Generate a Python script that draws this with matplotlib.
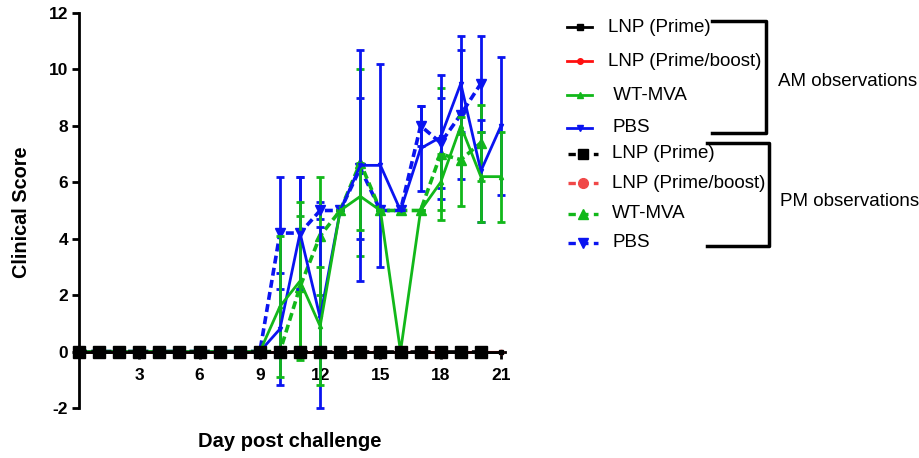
import numpy as np
import matplotlib.pyplot as plt
from matplotlib.lines import Line2D

plt.rcParams['font.family'] = ['Liberation Sans', 'DejaVu Sans']
plt.rcParams['axes.unicode_minus'] = False

# days observed
days_am = np.arange(0, 22)
days_pm = np.arange(0, 21)

# AM observations (solid lines)
lnp_prime_am = np.zeros(22)
lnp_boost_am = np.zeros(22)
wt_mva_am = [0, 0, 0, 0, 0, 0, 0, 0, 0, 0, 1.6, 2.5, 0.9, 5.0, 5.5, 5.0, 0, 5.0, 6.0, 8.0, 6.2, 6.2]
wt_mva_am_err = [0, 0, 0, 0, 0, 0, 0, 0, 0, 0, 2.5, 2.8, 2.1, 0, 1.2, 0, 0, 0, 1.0, 0.3, 1.6, 1.6]
pbs_am = [0, 0, 0, 0, 0, 0, 0, 0, 0, 0, 0.8, 4.2, 1.2, 5.0, 6.6, 6.6, 5.0, 7.2, 7.6, 9.5, 6.4, 8.0]
pbs_am_err = [0, 0, 0, 0, 0, 0, 0, 0, 0, 0, 2.0, 2.0, 3.2, 0, 4.1, 3.6, 0, 1.5, 2.2, 1.7, 1.8, 2.45]

# PM observations (dashed lines)
lnp_prime_pm = np.zeros(21)
lnp_boost_pm = np.zeros(21)
wt_mva_pm = [0, 0, 0, 0, 0, 0, 0, 0, 0, 0, 0, 2.3, 4.1, 5.0, 6.7, 5.0, 5.0, 5.0, 7.0, 6.8, 7.4]
wt_mva_pm_err = [0, 0, 0, 0, 0, 0, 0, 0, 0, 0, 0, 2.5, 2.1, 0, 3.3, 0, 0, 0, 2.35, 1.65, 1.35]
pbs_pm = [0, 0, 0, 0, 0, 0, 0, 0, 0, 0, 4.2, 4.2, 5.0, 5.0, 6.5, 5.0, 5.0, 8.0, 7.4, 8.4, 9.5]
pbs_pm_err = [0, 0, 0, 0, 0, 0, 0, 0, 0, 0, 2.0, 2.0, 0.3, 0, 2.5, 0, 0, 0.7, 1.6, 2.3, 1.7]

labels = ['LNP (Prime)', 'LNP (Prime/boost)', ' WT-MVA', 'PBS']
blue = '#0a14f0'
green = '#12b81a'
red = '#ff1010'

fig = plt.figure(figsize=(9.2, 4.58), dpi=100)
ax = fig.add_axes([0.0859, 0.1092, 0.4630, 0.8624])

dash = (2.2, 1.2)

# PM series
ax.errorbar(days_pm, pbs_pm, yerr=pbs_pm_err, color=blue, lw=2.6, ls=(0, dash),
            marker='v', ms=7, capsize=3, elinewidth=2, capthick=2, clip_on=False, zorder=3)
ax.errorbar(days_pm, wt_mva_pm, yerr=wt_mva_pm_err, color=green, lw=2.6, ls=(0, dash),
            marker='^', ms=7, capsize=3, elinewidth=2, capthick=2, clip_on=False, zorder=3)

# AM series
ax.errorbar(days_am, pbs_am, yerr=pbs_am_err, color=blue, lw=2, marker='v', ms=3,
            capsize=3, elinewidth=2, capthick=2, clip_on=False, zorder=4)
ax.errorbar(days_am, wt_mva_am, yerr=wt_mva_am_err, color=green, lw=2, marker='^', ms=3,
            capsize=3, elinewidth=2, capthick=2, clip_on=False, zorder=4)

ax.plot(days_pm, lnp_boost_pm, color=red, lw=2, ls=(0, dash), marker='o', ms=7,
        clip_on=False, zorder=5)
ax.plot(days_am, lnp_boost_am, color=red, lw=1.5, marker='o', ms=3, clip_on=False, zorder=5)
ax.plot(days_pm, lnp_prime_pm, color='black', lw=2.6, ls=(0, dash), marker='s', ms=8,
        clip_on=False, zorder=6)
ax.plot(days_am, lnp_prime_am, color='black', lw=2, marker='s', ms=3, clip_on=False, zorder=6)

ax.set_xlim(0, 21.2)
ax.set_ylim(-2, 12)
ax.spines['top'].set_visible(False)
ax.spines['right'].set_visible(False)
ax.spines['bottom'].set_position(('data', 0))
ax.spines['left'].set_linewidth(2)
ax.spines['bottom'].set_linewidth(2)
ax.set_xticks([3, 6, 9, 12, 15, 18, 21])
ax.set_yticks(np.arange(-2, 13, 2))
ax.tick_params(axis='both', width=2, length=5, labelsize=12.5, pad=3)
ax.tick_params(axis='x', pad=7)
for t in ax.get_xticklabels() + ax.get_yticklabels():
    t.set_fontweight('bold')

fig.text(0.315, 0.037, 'Day post challenge', ha='center', va='center',
         fontsize=14.5, fontweight='bold')
fig.text(0.023, 0.537, 'Clinical Score', ha='center', va='center', rotation=90,
         fontsize=14.3, fontweight='bold')

# legend drawn by hand
W, H = 920, 458


def fx(px):
    return px / W


def fy(py):
    return 1 - py / H


am_rows = [27, 61, 95, 128]
pm_rows = [154, 183, 214, 243]
am_text_x = [608, 608, 608, 612]
am_styles = [('black', 's'), (red, 'o'), (green, '^'), (blue, 'v')]
pm_styles = [('black', 's'), ('#f04848', 'o'), (green, '^'), (blue, 'v')]

for i in range(4):
    c, m = am_styles[i]
    fig.add_artist(Line2D([fx(567), fx(592)], [fy(am_rows[i])] * 2, color=c, lw=2,
                          transform=fig.transFigure))
    fig.add_artist(Line2D([fx(579.5)], [fy(am_rows[i])], color=c, marker=m, ms=4,
                          transform=fig.transFigure))
    fig.text(fx(am_text_x[i]), fy(am_rows[i]), labels[i], fontsize=13.5, va='center')
    c, m = pm_styles[i]
    fig.add_artist(Line2D([fx(568), fx(598)], [fy(pm_rows[i])] * 2, color=c, lw=2.4,
                          ls=(0, (2.2, 1.6)), transform=fig.transFigure))
    fig.add_artist(Line2D([fx(583)], [fy(pm_rows[i])], color=c, marker=m, ms=7,
                          transform=fig.transFigure))
    fig.text(fx(612), fy(pm_rows[i]), labels[i].strip(), fontsize=13.5, va='center')

# brackets
fig.add_artist(Line2D([fx(712), fx(766), fx(766), fx(712)],
                      [fy(21), fy(21), fy(133), fy(133)], color='black', lw=2.5,
                      transform=fig.transFigure))
fig.add_artist(Line2D([fx(707), fx(769), fx(769), fx(707)],
                      [fy(143), fy(143), fy(246), fy(246)], color='black', lw=2.5,
                      transform=fig.transFigure))
fig.text(fx(778), fy(82), 'AM observations', fontsize=13.5, va='center')
fig.text(fx(780), fy(201), 'PM observations', fontsize=13.5, va='center')

fig.savefig('out.png', dpi=100)
